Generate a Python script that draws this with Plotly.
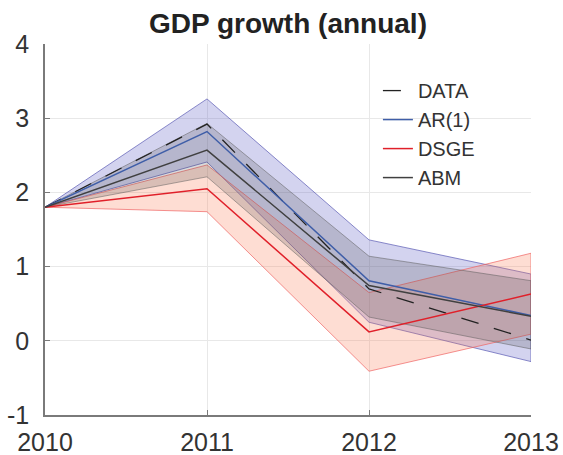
import plotly.graph_objects as go

years = [2010, 2011, 2012, 2013]
year_labels = ["2010", "2011", "2012", "2013"]
data_vals = [1.8, 2.92, 0.70, 0.01]
ar_mean = [1.8, 2.82, 0.81, 0.34]
ar_upper = [1.8, 3.26, 1.36, 0.90]
ar_lower = [1.8, 2.41, 0.25, -0.28]
dsge_mean = [1.8, 2.05, 0.12, 0.63]
dsge_upper = [1.8, 2.37, 0.65, 1.18]
dsge_lower = [1.8, 1.74, -0.41, 0.09]
abm_mean = [1.8, 2.57, 0.745, 0.33]
abm_upper = [1.8, 2.93, 1.14, 0.81]
abm_lower = [1.8, 2.21, 0.32, -0.11]
y_ticks = [-1, 0, 1, 2, 3, 4]
y_labels = ["-1", "0", "1", "2", "3", "4"]

FONT = "Liberation Sans, Arial, sans-serif"

fig = go.Figure()


def band(upper, lower, fill, edge):
    fig.add_trace(go.Scatter(
        x=years + years[::-1], y=upper + lower[::-1],
        fill="toself", fillcolor=fill, mode="lines",
        line=dict(color=edge, width=1), showlegend=False, hoverinfo="skip"))


band(ar_upper, ar_lower, "rgba(80,80,190,0.25)", "rgba(90,90,180,0.7)")
band(dsge_upper, dsge_lower, "rgba(250,120,80,0.25)", "rgba(240,100,100,0.7)")
band(abm_upper, abm_lower, "rgba(70,70,70,0.2)", "rgba(90,90,90,0.5)")

fig.add_trace(go.Scatter(x=years, y=data_vals, name="DATA", mode="lines",
                         line=dict(color="#222222", width=1.3, dash="18px,16px")))
fig.add_trace(go.Scatter(x=years, y=ar_mean, name="AR(1)", mode="lines",
                         line=dict(color="#3f5ea8", width=1.5)))
fig.add_trace(go.Scatter(x=years, y=dsge_mean, name="DSGE", mode="lines",
                         line=dict(color="#e0202a", width=1.5)))
fig.add_trace(go.Scatter(x=years, y=abm_mean, name="ABM", mode="lines",
                         line=dict(color="#404040", width=1.5)))

axis_common = dict(
    showgrid=True, gridcolor="#e8e8e8", gridwidth=1,
    showline=True, linecolor="#7a7a7a", linewidth=1.5,
    ticks="inside", ticklen=5, tickcolor="#7a7a7a",
    tickfont=dict(family=FONT, size=25, color="#333333"),
    zeroline=False, mirror=False, automargin=False,
)

W, H = 563, 455
fig.update_layout(
    width=W, height=H,
    margin=dict(l=45, r=32, t=44, b=40),
    paper_bgcolor="white", plot_bgcolor="white",
    title=dict(text="<b>GDP growth (annual)</b>", x=(45 + 531) / 2 / W, xanchor="center",
               y=1 - 23 / H, yanchor="middle",
               font=dict(family=FONT, size=28, color="#222222")),
    xaxis=dict(range=[2010, 2013], tickvals=years, ticktext=year_labels, ticklabelstandoff=4, **axis_common),
    yaxis=dict(range=[-1, 4], tickvals=y_ticks, ticktext=y_labels, ticklabelstandoff=9, **axis_common),
    legend=dict(x=0.685, y=0.927, xanchor="left", yanchor="top",
                bgcolor="rgba(0,0,0,0)", borderwidth=0,
                font=dict(family=FONT, size=20, color="#333333")),
)

fig.write_html(
    "out.html",
    config={"displayModeBar": False},
    post_script="document.body.style.margin='0';document.body.style.overflow='hidden';",
)
